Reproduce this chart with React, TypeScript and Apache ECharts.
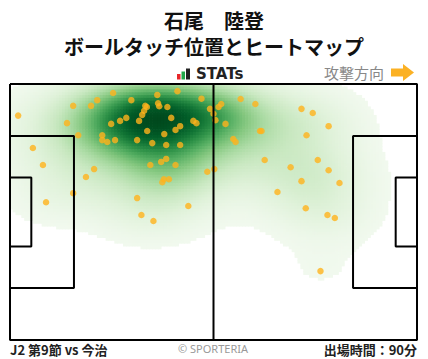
import React, { useEffect, useRef } from "react";
import * as echarts from "echarts";

// Pitch size (metres), y measured from the top touchline
const pitchLength = 105;
const pitchWidth = 68;

// Ball touch positions (x: towards attack, y: from top touchline)
const touchX = [
  2.1, 16.3, 14.7, 17.6, 20.9, 22.5, 26.6, 31.3, 38.0, 43.2, 49.4, 51.6, 52.5, 53.0, 53.8, 54.5, 55.6, 52.7,
  34.9, 35.3, 34.6, 34.1, 38.2, 38.5, 40.6, 41.6, 30.0, 28.4, 26.1, 33.3, 47.3, 48.1, 43.9, 42.7, 35.4, 39.8,
  23.8, 23.8, 25.1, 27.1, 32.8, 36.7, 40.3, 43.9, 5.9, 8.5, 21.7, 19.6, 16.3, 9.3, 36.2, 39.0, 40.3, 42.7,
  50.9, 39.3, 39.7, 41.0, 32.8, 46.0, 33.9, 37.0, 59.5, 63.3, 75.2, 78.1, 82.2, 76.5, 64.5, 64.9, 57.6, 58.2,
  65.7, 72.4, 79.4, 82.2, 75.2, 85.0, 69.0, 76.3, 81.9, 83.8, 80.1,
];
const touchY = [
  8.4, 5.8, 10.4, 13.6, 5.8, 4.3, 2.4, 4.3, 2.9, 1.9, 3.9, 6.6, 7.9, 9.6, 6.1, 5.3, 10.6, 22.6,
  5.8, 6.1, 7.1, 8.2, 5.1, 5.9, 6.1, 9.0, 9.0, 9.8, 10.6, 9.8, 9.8, 10.4, 11.2, 12.2, 12.5, 13.3,
  13.6, 14.9, 15.4, 14.9, 14.9, 15.7, 16.2, 16.2, 17.0, 21.5, 22.6, 24.7, 29.0, 31.4, 21.5, 20.7, 19.9, 21.5,
  23.3, 26.1, 25.3, 25.3, 30.3, 32.4, 34.8, 36.4, 4.0, 5.3, 6.6, 7.7, 11.2, 13.6, 12.5, 12.5, 14.6, 15.4,
  20.2, 22.1, 20.2, 22.9, 25.8, 26.3, 28.7, 33.0, 34.8, 35.6, 49.7,
];

// Pitch markings as polylines
const pitchLines: number[][][] = [
  [[0, 0], [105, 0], [105, 68], [0, 68], [0, 0]],
  [[52.5, 0], [52.5, 68]],
  [[0, 13.84], [16.5, 13.84], [16.5, 54.16], [0, 54.16]],
  [[0, 24.84], [5.5, 24.84], [5.5, 43.16], [0, 43.16]],
  [[105, 13.84], [88.5, 13.84], [88.5, 54.16], [105, 54.16]],
  [[105, 24.84], [99.5, 24.84], [99.5, 43.16], [105, 43.16]],
];

const titleLines = ["石尾　陸登", "ボールタッチ位置とヒートマップ"];

const greens = ["#f1f9ee", "#e0f2da", "#c9e8c1", "#a9daa2", "#84c77f", "#58b064", "#31944a", "#137636", "#015c28", "#004a1e"];

function buildDensity() {
  const nx = 140;
  const ny = 90;
  const dx = pitchLength / nx;
  const dy = pitchWidth / ny;
  const sx = 9.5;
  const sy = 5.8;
  const vals: number[][] = [];
  let max = 0;
  for (let i = 0; i < nx; i++) {
    for (let j = 0; j < ny; j++) {
      const cx = (i + 0.5) * dx;
      const cy = (j + 0.5) * dy;
      let s = 0;
      for (let k = 0; k < touchX.length; k++) {
        const ux = (cx - touchX[k]) / sx;
        const uy = (cy - touchY[k]) / sy;
        s += Math.exp(-0.5 * (ux * ux + uy * uy));
      }
      if (s > max) max = s;
      vals.push([cx, cy, s]);
    }
  }
  const thresh = 0.045;
  const out: number[][] = [];
  for (const v of vals) {
    const n = v[2] / max;
    if (n >= thresh) out.push([v[0], v[1], Math.pow(n, 1.25)]);
  }
  return { data: out, hx: dx / 2, hy: dy / 2, min: Math.pow(thresh, 1.25) };
}

export default function App() {
  const ref = useRef<HTMLDivElement>(null);
  useEffect(() => {
    if (!ref.current) return;
    const chart = echarts.init(ref.current, undefined, { renderer: "svg" });
    const dens = buildDensity();
    const jp = '"Noto Sans CJK JP", "Noto Sans", sans-serif';

    const lineSeries = pitchLines.map((pl) => ({
      type: "line",
      data: pl,
      symbol: "none",
      silent: true,
      z: 4,
      lineStyle: { color: "#000", width: 2 },
      clip: false,
    }));

    chart.setOption({
      animation: false,
      backgroundColor: "#fff",
      grid: { left: 10, right: 11, top: 84, bottom: 19, containLabel: false },
      xAxis: { type: "value", min: 0, max: pitchLength, show: false },
      yAxis: { type: "value", min: 0, max: pitchWidth, inverse: true, show: false },
      visualMap: {
        show: false,
        type: "continuous",
        seriesIndex: 0,
        dimension: 2,
        min: dens.min,
        max: 1,
        inRange: { color: greens },
      },
      series: [
        {
          type: "custom",
          data: dens.data,
          dimensions: ["x", "y", "v"],
          encode: { x: 0, y: 1 },
          silent: true,
          z: 1,
          renderItem: (params: any, api: any) => {
            const x = api.value(0);
            const y = api.value(1);
            const p0 = api.coord([x - dens.hx, y - dens.hy]);
            const p1 = api.coord([x + dens.hx, y + dens.hy]);
            return {
              type: "rect",
              shape: {
                x: Math.min(p0[0], p1[0]) - 0.35,
                y: Math.min(p0[1], p1[1]) - 0.35,
                width: Math.abs(p1[0] - p0[0]) + 0.7,
                height: Math.abs(p1[1] - p0[1]) + 0.7,
              },
              style: { fill: api.visual("color") },
            };
          },
        },
        {
          type: "scatter",
          data: touchX.map((x, i) => [x, touchY[i]]),
          symbol: "circle",
          symbolSize: 6.5,
          z: 3,
          silent: true,
          itemStyle: { color: "#ffb31c" },
        },
        ...lineSeries,
      ],
      graphic: [
        {
          type: "text",
          x: 214,
          y: 33.5,
          style: {
            text: titleLines.join("\n"),
            font: `bold 20px ${jp}`,
            lineHeight: 25.5,
            fill: "#111",
            align: "center",
            verticalAlign: "middle",
          },
        },
        { type: "rect", shape: { x: 177, y: 74, width: 3.5, height: 5.5 }, style: { fill: "#e8262a" } },
        { type: "rect", shape: { x: 181.5, y: 71.5, width: 3.5, height: 8 }, style: { fill: "#22a84a" } },
        { type: "rect", shape: { x: 186, y: 68.5, width: 4, height: 11 }, style: { fill: "#222" } },
        {
          type: "text",
          x: 196,
          y: 74,
          style: { text: "STATs", font: 'bold 15px "DejaVu Sans", sans-serif', fill: "#222", align: "left", verticalAlign: "middle" },
        },
        {
          type: "text",
          x: 384,
          y: 72.5,
          style: { text: "攻撃方向", font: `15px ${jp}`, fill: "#888", align: "right", verticalAlign: "middle" },
        },
        { type: "rect", shape: { x: 391, y: 68.5, width: 12.5, height: 8 }, style: { fill: "#fbb124" } },
        { type: "polygon", shape: { points: [[403, 64], [414, 72.5], [403, 81]] }, style: { fill: "#fbb124" } },
        {
          type: "text",
          x: 10,
          y: 349,
          style: { text: "J2 第9節 vs 今治", font: `bold 13px ${jp}`, fill: "#222", align: "left", verticalAlign: "middle" },
        },
        {
          type: "text",
          x: 213,
          y: 348,
          style: { text: "© SPORTERIA", font: '11px "Noto Sans", sans-serif', fill: "#999", align: "center", verticalAlign: "middle" },
        },
        {
          type: "text",
          x: 417,
          y: 349,
          style: { text: "出場時間：90分", font: `bold 13px ${jp}`, fill: "#222", align: "right", verticalAlign: "middle" },
        },
      ],
    });
    return () => chart.dispose();
  }, []);
  return <div ref={ref} style={{ position: "fixed", left: 0, top: 0, width: 428, height: 359 }} />;
}
